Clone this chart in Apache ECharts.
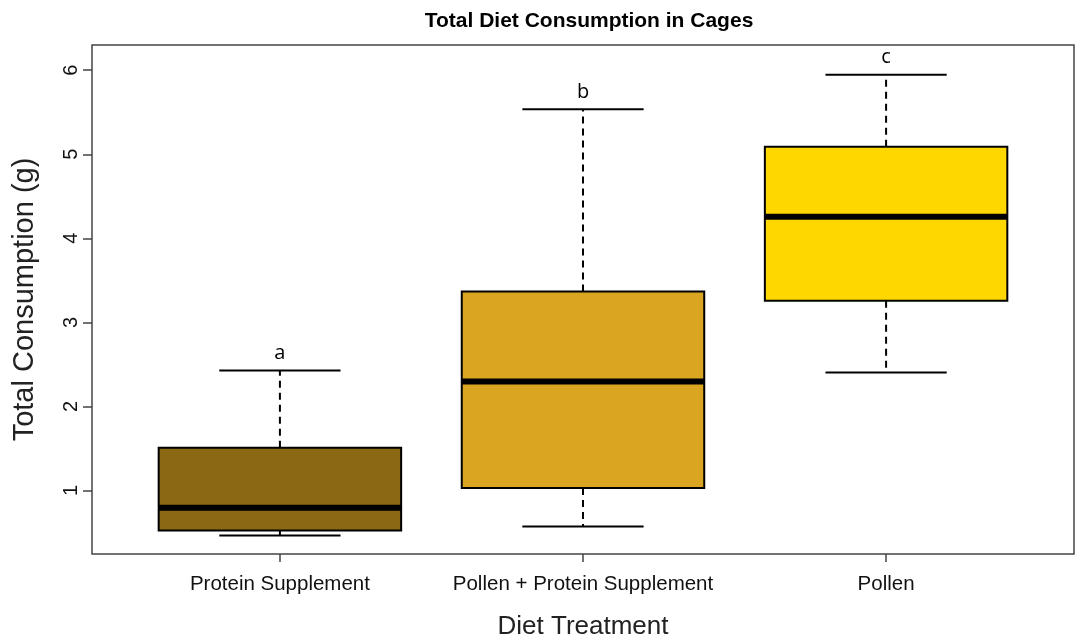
<!DOCTYPE html>
<html>
<head>
<meta charset="utf-8">
<script src="https://cdn.jsdelivr.net/npm/echarts@6/dist/echarts.min.js"></script>
<style>
  html, body { margin: 0; padding: 0; background: #fff; }
  #chart { width: 1081px; height: 639px; }
</style>
</head>
<body>
<div id="chart"></div>
<script>
// Diet treatments (x positions 1..3)
const categories = ['Protein Supplement', 'Pollen + Protein Supplement', 'Pollen'];
// Five-number summaries per treatment (g)
const whiskerLow = [0.465, 0.572, 2.403];
const q1 = [0.524, 1.029, 3.256];
const median = [0.794, 2.296, 4.258];
const q3 = [1.508, 3.366, 5.090];
const whiskerHigh = [2.427, 5.535, 5.946];
// Significance group letters
const groupLetters = ['a', 'b', 'c'];
const boxColors = ['#8B6914', '#DAA520', '#FFD700'];
const yTicks = [1, 2, 3, 4, 5, 6];

const boxData = categories.map((c, i) => [i + 1, whiskerLow[i], q1[i], median[i], q3[i], whiskerHigh[i]]);

const chart = echarts.init(document.getElementById('chart'));

function renderBox(params, api) {
  const x = api.value(0);
  const lo = api.value(1), b1 = api.value(2), md = api.value(3), b3 = api.value(4), hi = api.value(5);
  const i = params.dataIndex;
  const tl = api.coord([x - 0.4, b3]);
  const br = api.coord([x + 0.4, b1]);
  const cx = api.coord([x, md])[0];
  const yMed = api.coord([x, md])[1];
  const yLo = api.coord([x, lo])[1];
  const yHi = api.coord([x, hi])[1];
  const sL = api.coord([x - 0.2, lo])[0];
  const sR = api.coord([x + 0.2, lo])[0];
  const dash = { stroke: '#000', lineWidth: 2, lineDash: [7, 5] };
  const solid = { stroke: '#000', lineWidth: 2 };
  return {
    type: 'group',
    children: [
      { type: 'line', shape: { x1: cx, y1: tl[1], x2: cx, y2: yHi }, style: dash },
      { type: 'line', shape: { x1: cx, y1: br[1], x2: cx, y2: yLo }, style: dash },
      { type: 'line', shape: { x1: sL, y1: yHi, x2: sR, y2: yHi }, style: solid },
      { type: 'line', shape: { x1: sL, y1: yLo, x2: sR, y2: yLo }, style: solid },
      { type: 'rect', shape: { x: tl[0], y: tl[1], width: br[0] - tl[0], height: br[1] - tl[1] },
        style: { fill: boxColors[i], stroke: '#000', lineWidth: 2 } },
      { type: 'line', shape: { x1: tl[0], y1: yMed, x2: br[0], y2: yMed }, style: { stroke: '#000', lineWidth: 6 } },
      { type: 'text', x: cx, y: yHi - 17,
        style: { text: groupLetters[i], fill: '#000', font: '20px "Open Sans", sans-serif', align: 'center', verticalAlign: 'middle' } }
    ]
  };
}

chart.setOption({
  animation: false,
  title: {
    text: 'Total Diet Consumption in Cages',
    left: 584, top: 6, textAlign: 'center',
    textStyle: { fontFamily: '"Liberation Sans", Arial, sans-serif', fontWeight: 'bold', fontSize: 21, color: '#000' }
  },
  grid: {
    left: 92, right: 7, top: 45, bottom: 85,
    outerBoundsMode: 'none', containLabel: false,
    show: true, borderColor: '#444', borderWidth: 1.5, backgroundColor: 'transparent'
  },
  xAxis: {
    type: 'value', min: 0.38, max: 3.62,
    name: 'Diet Treatment', nameLocation: 'middle', nameGap: 60,
    nameTextStyle: { fontFamily: '"Liberation Sans", Arial, sans-serif', fontSize: 26, color: '#222' },
    axisLine: { show: false },
    splitLine: { show: false },
    axisTick: { show: true, length: 8, customValues: [1, 2, 3], lineStyle: { color: '#444', width: 1.5 } },
    axisLabel: {
      customValues: [1, 2, 3], margin: 20, color: '#111',
      fontFamily: '"Liberation Sans", Arial, sans-serif', fontSize: 20.5,
      formatter: v => categories[Math.round(v) - 1] || ''
    }
  },
  yAxis: {
    type: 'value', min: 0.244, max: 6.30,
    name: 'Total Consumption (g)', nameLocation: 'middle', nameGap: 53,
    nameTextStyle: { fontFamily: '"Liberation Sans", Arial, sans-serif', fontSize: 29, color: '#222' },
    axisLine: { show: false },
    splitLine: { show: false },
    axisTick: { show: true, length: 9, customValues: yTicks, lineStyle: { color: '#444', width: 1.5 } },
    axisLabel: {
      customValues: yTicks, rotate: 90, margin: 11, color: '#111',
      fontFamily: '"Liberation Sans", Arial, sans-serif', fontSize: 20
    }
  },
  series: [{
    type: 'custom',
    renderItem: renderBox,
    encode: { x: 0, y: [1, 2, 3, 4, 5] },
    data: boxData,
    clip: false
  }]
});
</script>
</body>
</html>
